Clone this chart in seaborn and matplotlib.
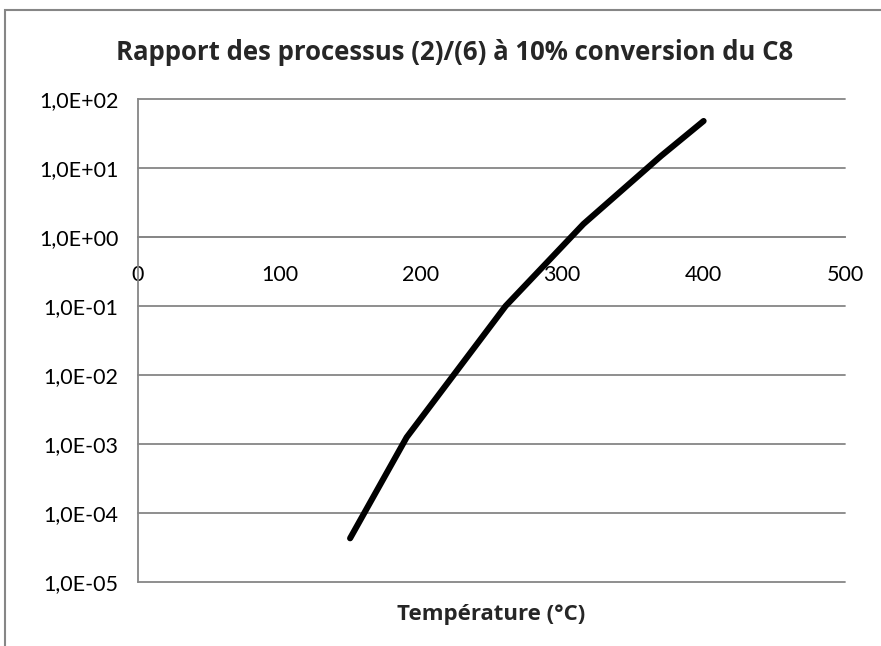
import numpy as np
import pandas as pd
import seaborn as sns
import matplotlib
matplotlib.use("Agg")
import matplotlib.pyplot as plt
from matplotlib.ticker import FixedLocator, FuncFormatter, LogLocator, NullFormatter
from matplotlib.patches import Rectangle

# Température (°C) et rapport des processus (2)/(6)
temperature = [150, 190, 260, 315, 370, 400]
rapport = [4.3e-5, 1.25e-3, 1.0e-1, 1.54, 15.0, 48.0]

x_ticks = [0, 100, 200, 300, 400, 500]
y_ticks = [1e-5, 1e-4, 1e-3, 1e-2, 1e-1, 1e0, 1e1, 1e2]

titre = "Rapport des processus (2)/(6) à 10% conversion du C8"
titre_x = "Température (°C)"

sns.set_style("white")
plt.rcParams["font.family"] = ["Lato", "DejaVu Sans"]
GRAS = ["Open Sans", "DejaVu Sans"]

GRIS = "#868686"

fig = plt.figure(figsize=(8.81, 6.46), dpi=100)
ax = fig.add_axes([138 / 881, 1 - 582 / 646, (845 - 138) / 881, (582 - 99) / 646])

df = pd.DataFrame({"T": temperature, "r": rapport})
sns.lineplot(data=df, x="T", y="r", ax=ax, color="black", linewidth=4.4,
             solid_capstyle="round", solid_joinstyle="round", zorder=5)

ax.set_yscale("log")
ax.set_xlim(0, 500)
ax.set_ylim(1e-5, 1e2)

# axe horizontal croisant à 1,0E+00
for s in ("top", "right"):
    ax.spines[s].set_visible(False)
ax.spines["bottom"].set_position(("data", 1.0))
for s in ("left", "bottom"):
    ax.spines[s].set_color(GRIS)
    ax.spines[s].set_linewidth(1.3)

ax.xaxis.set_major_locator(FixedLocator(x_ticks))
ax.yaxis.set_major_locator(FixedLocator(y_ticks))
ax.yaxis.set_minor_locator(LogLocator(base=10, subs=np.arange(2, 10), numticks=20))
ax.yaxis.set_minor_formatter(NullFormatter())
ax.yaxis.set_major_formatter(FuncFormatter(lambda v, p: f"{v:.1E}".replace(".", ",")))

ax.tick_params(axis="y", which="major", direction="out", length=8, width=1.3,
               color=GRIS, labelsize=15.5, pad=6, labelcolor="black")
ax.tick_params(axis="y", which="minor", direction="in", length=6, width=1.1, color=GRIS)
ax.tick_params(axis="x", which="major", direction="out", length=8, width=1.3,
               color=GRIS, labelsize=15.5, pad=12, labelcolor="black")

ax.grid(axis="y", which="major", color=GRIS, linewidth=1.3)
ax.grid(axis="x", visible=False)
for gl in ax.yaxis.get_gridlines():
    gl.set_clip_on(False)

ax.set_xlabel(titre_x, fontsize=16, fontweight="bold", family=GRAS)
ax.xaxis.set_label_coords(0.5, -0.045)
ax.set_ylabel("")

fig.text(455 / 881, 1 - 53 / 646, titre, ha="center", va="center",
         fontsize=18.5, fontweight="bold", family=GRAS)

# cadre de la zone de graphique
fig.patches.append(Rectangle((5 / 881, -0.1), 1.2, 1 - 10 / 646 + 0.1,
                             transform=fig.transFigure, fill=False,
                             edgecolor=GRIS, linewidth=1.5))

fig.savefig("out.png", dpi=100)
